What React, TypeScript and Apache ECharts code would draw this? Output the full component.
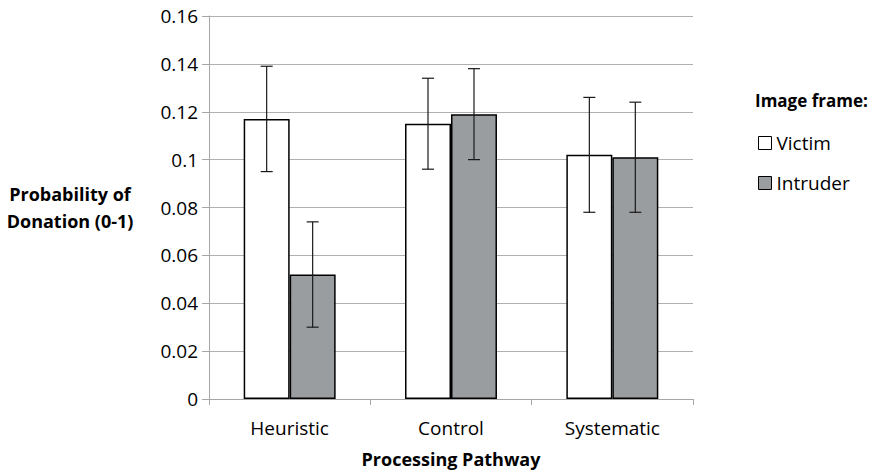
import React, { useEffect, useRef } from "react";
import * as echarts from "echarts";

const categories = ["Heuristic", "Control", "Systematic"];
const victimValues = [0.117, 0.115, 0.102];
const victimLow = [0.095, 0.096, 0.078];
const victimHigh = [0.139, 0.134, 0.126];
const intruderValues = [0.052, 0.119, 0.101];
const intruderLow = [0.030, 0.100, 0.078];
const intruderHigh = [0.074, 0.138, 0.124];
const yTicks = [0, 0.02, 0.04, 0.06, 0.08, 0.1, 0.12, 0.14, 0.16];

const FONT = '"Open Sans", sans-serif';
const BAR_FRAC = 0.285;

export default function App() {
  const ref = useRef<HTMLDivElement>(null);
  useEffect(() => {
    if (!ref.current) return;
    const chart = echarts.init(ref.current, undefined, { renderer: "svg" });

    const errData: number[][] = [];
    categories.forEach((_, i) => {
      errData.push([i, victimLow[i], victimHigh[i], 0]);
      errData.push([i, intruderLow[i], intruderHigh[i], 1]);
    });

    const option: any = {
      animation: false,
      backgroundColor: "#ffffff",
      textStyle: { fontFamily: FONT },
      title: {
        text: "Image frame:",
        left: 750,
        top: 87,
        textStyle: { fontFamily: FONT, fontWeight: "bold", fontSize: 17, color: "#000" },
      },
      legend: {
        data: ["Victim", "Intruder"],
        orient: "vertical",
        left: 753,
        top: 128,
        itemWidth: 13,
        itemHeight: 13,
        itemGap: 20,
        icon: "rect",
        itemStyle: { borderColor: "#000", borderWidth: 1 },
        textStyle: { fontFamily: FONT, fontSize: 19, color: "#000", lineHeight: 20 },
      },
      grid: { left: 209, right: 179, top: 16, bottom: 74, containLabel: false, outerBoundsMode: "none" },
      xAxis: {
        type: "category",
        data: categories,
        name: "Processing Pathway",
        nameLocation: "middle",
        nameGap: 51,
        nameTextStyle: { fontFamily: FONT, fontWeight: "bold", fontSize: 18, color: "#000" },
        axisLine: { show: true, lineStyle: { color: "#a6a6a6", width: 1 } },
        axisTick: { show: true, length: 6, lineStyle: { color: "#a6a6a6" } },
        axisLabel: { fontFamily: FONT, fontSize: 19, color: "#000", margin: 19 },
      },
      yAxis: {
        type: "value",
        min: yTicks[0],
        max: yTicks[yTicks.length - 1],
        interval: 0.02,
        name: "Probability of\nDonation (0-1)",
        nameLocation: "middle",
        nameRotate: 0,
        nameGap: 139,
        nameTextStyle: {
          fontFamily: FONT,
          fontWeight: "bold",
          fontSize: 18,
          color: "#000",
          align: "center",
          verticalAlign: "middle",
          lineHeight: 27,
        },
        axisLine: { show: true, lineStyle: { color: "#a6a6a6", width: 1 } },
        axisTick: { show: true, length: 7, lineStyle: { color: "#a6a6a6" } },
        axisLabel: {
          fontFamily: FONT,
          fontSize: 19,
          color: "#000",
          margin: 11,
          formatter: (v: number) => String(+v.toFixed(2)),
        },
        splitLine: { show: true, lineStyle: { color: "#b0b0b0", width: 1 } },
      },
      series: [
        {
          name: "Victim",
          type: "bar",
          data: victimValues,
          barWidth: `${BAR_FRAC * 100}%`,
          barGap: "0%",
          itemStyle: { color: "#ffffff", borderColor: "#000", borderWidth: 1.5 },
        },
        {
          name: "Intruder",
          type: "bar",
          data: intruderValues,
          barWidth: `${BAR_FRAC * 100}%`,
          barGap: "0%",
          itemStyle: { color: "#9a9da0", borderColor: "#000", borderWidth: 1.5 },
        },
        {
          name: "err",
          type: "custom",
          data: errData,
          z: 10,
          renderItem: (params: any, api: any) => {
            const idx = api.value(0);
            const lo = api.value(1);
            const hi = api.value(2);
            const which = api.value(3);
            const bw = api.size([1, 0])[0] * BAR_FRAC;
            const pLo = api.coord([idx, lo]);
            const pHi = api.coord([idx, hi]);
            const x = pLo[0] + (which === 0 ? -bw / 2 : bw / 2);
            const cap = 6;
            const style = { stroke: "#1a1a1a", lineWidth: 1.2 };
            return {
              type: "group",
              children: [
                { type: "line", shape: { x1: x, y1: pLo[1], x2: x, y2: pHi[1] }, style },
                { type: "line", shape: { x1: x - cap, y1: pHi[1], x2: x + cap, y2: pHi[1] }, style },
                { type: "line", shape: { x1: x - cap, y1: pLo[1], x2: x + cap, y2: pLo[1] }, style },
              ],
            };
          },
        },
      ],
    };
    chart.setOption(option);
    return () => chart.dispose();
  }, []);
  return <div ref={ref} style={{ width: 872, height: 473, position: "absolute", left: 0, top: 0 }} />;
}
